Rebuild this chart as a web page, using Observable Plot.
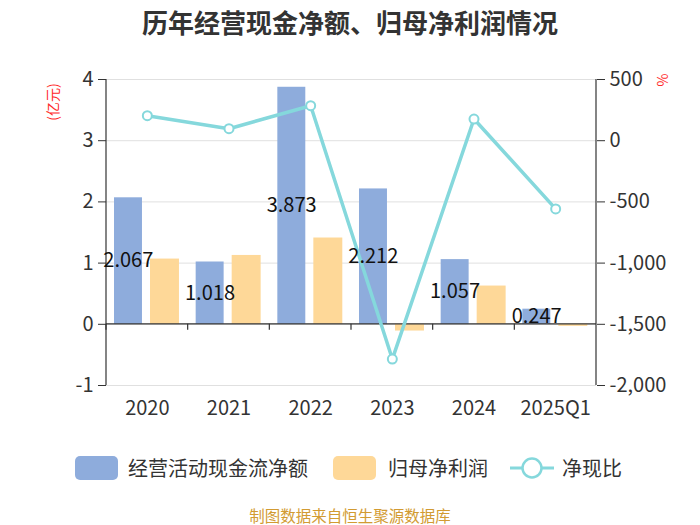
<!DOCTYPE html>
<html><head><meta charset="utf-8">
<script src="https://cdn.jsdelivr.net/npm/d3@7"></script>
<script src="https://cdn.jsdelivr.net/npm/@observablehq/plot@0.6"></script>
<style>
body{margin:0;width:700px;height:525px;position:relative;font-family:"Noto Sans CJK SC","Noto Sans",sans-serif;background:#fff;overflow:hidden}
.abs{position:absolute;white-space:nowrap}
#title{left:0;width:700px;top:5px;text-align:center;font-size:26px;font-weight:bold;color:#333;line-height:34px}
#chart{position:absolute;left:0;top:45px}
.unit{color:#ff2a2a;font-size:14px;line-height:16px;transform:translate(-50%,-50%) rotate(-90deg)}
.lg{font-size:20px;line-height:24px;color:#333;top:456px}
.sw{position:absolute;width:43px;height:24px;border-radius:5px;top:456px}
#caption{left:0;width:700px;text-align:center;top:505px;font-size:15.5px;line-height:20px;color:#d29b32}
</style></head>
<body>
<div id="title" class="abs">历年经营现金净额、归母净利润情况</div>
<div id="chart"></div>
<div class="abs unit" style="left:52px;top:102px">(亿元)</div>
<div class="abs unit" style="left:662px;top:80px">%</div>
<div class="sw" style="left:75px;background:#8eacdc"></div>
<div class="abs lg" style="left:128px">经营活动现金流净额</div>
<div class="sw" style="left:333px;background:#fed898"></div>
<div class="abs lg" style="left:388px">归母净利润</div>
<svg class="abs" style="left:508px;top:456px" width="48" height="24"><line x1="2" x2="46" y1="12" y2="12" stroke="#85d8dc" stroke-width="3"/><circle cx="24" cy="12" r="9.5" fill="#fff" stroke="#85d8dc" stroke-width="2.5"/></svg>
<div class="abs lg" style="left:562px">净现比</div>
<div id="caption" class="abs">制图数据来自恒生聚源数据库</div>
<script>
const categories = ["2020","2021","2022","2023","2024","2025Q1"];
const cashFlow = [2.067, 1.018, 3.873, 2.212, 1.057, 0.247];
const netProfit = [1.066, 1.125, 1.41, -0.11, 0.625, -0.034];
const cashRatio = [204, 98, 286, -1784, 177, -557];
const leftTicks = [-1, 0, 1, 2, 3, 4];

const rows = categories.map((c, i) => ({cat: c, cash: cashFlow[i], profit: netProfit[i], ratio: cashRatio[i]}));
const toLeft = v => v / 500 + 3;
const fmtR = v => (v < 0 ? "-" : "") + d3.format(",")(Math.abs(v));
const fmtL = v => (v < 0 ? "-" : "") + Math.abs(v);

const frameMark = (index, scales, values, dims) => {
  const {x, y} = scales;
  const L = dims.marginLeft, R = dims.width - dims.marginRight;
  const T = dims.marginTop, B = dims.height - dims.marginBottom;
  const g = d3.create("svg:g").attr("stroke", "#333").attr("stroke-width", 1.2);
  g.append("line").attr("x1", L).attr("x2", L).attr("y1", T).attr("y2", B);
  g.append("line").attr("x1", R).attr("x2", R).attr("y1", T).attr("y2", B);
  const y0 = y(0);
  g.append("line").attr("x1", L).attr("x2", R).attr("y1", y0).attr("y2", y0);
  categories.forEach(c => {
    const xx = x(c);
    g.append("line").attr("x1", xx).attr("x2", xx).attr("y1", y0).attr("y2", y0 + 6);
  });
  return g.node();
};

const plot = Plot.plot({
  width: 700,
  height: 400,
  marginTop: 34,
  marginBottom: 60,
  marginLeft: 106,
  marginRight: 104,
  style: {fontSize: "20px", fontFamily: "'Noto Sans CJK SC','Noto Sans',sans-serif", color: "#333", background: "transparent"},
  x: {type: "band", domain: categories, padding: 0, round: false},
  y: {domain: [-1, 4]},
  marks: [
    Plot.gridY(leftTicks, {stroke: "#e0e0e0", strokeOpacity: 1}),
    Plot.barY(rows, {x: "cat", y: "cash", fill: "#8eacdc", insetLeft: 8, insetRight: 45.7}),
    Plot.barY(rows, {x: "cat", y: "profit", fill: "#fed898", insetLeft: 44, insetRight: 8.7}),
    frameMark,
    Plot.axisX({tickSize: 0, tickPadding: 15, fontSize: 20, label: null}),
    Plot.axisY({anchor: "left", ticks: leftTicks, tickFormat: fmtL, tickSize: 8, tickPadding: 5, fontSize: 20, label: null}),
    Plot.axisY({anchor: "right", ticks: leftTicks, tickFormat: d => fmtR((d - 3) * 500), tickSize: 8, tickPadding: 5, fontSize: 20, label: null}),
    Plot.line(rows, {x: "cat", y: d => toLeft(d.ratio), stroke: "#85d8dc", strokeWidth: 3.5}),
    Plot.dot(rows, {x: "cat", y: d => toLeft(d.ratio), r: 4.5, fill: "#fff", stroke: "#85d8dc", strokeWidth: 2}),
    Plot.text(rows, {x: "cat", y: d => d.cash / 2, text: d => d3.format(".3f")(d.cash), dx: -19, fontSize: 20, fill: "#111"})
  ]
});
document.getElementById("chart").appendChild(plot);
</script>
</body></html>
